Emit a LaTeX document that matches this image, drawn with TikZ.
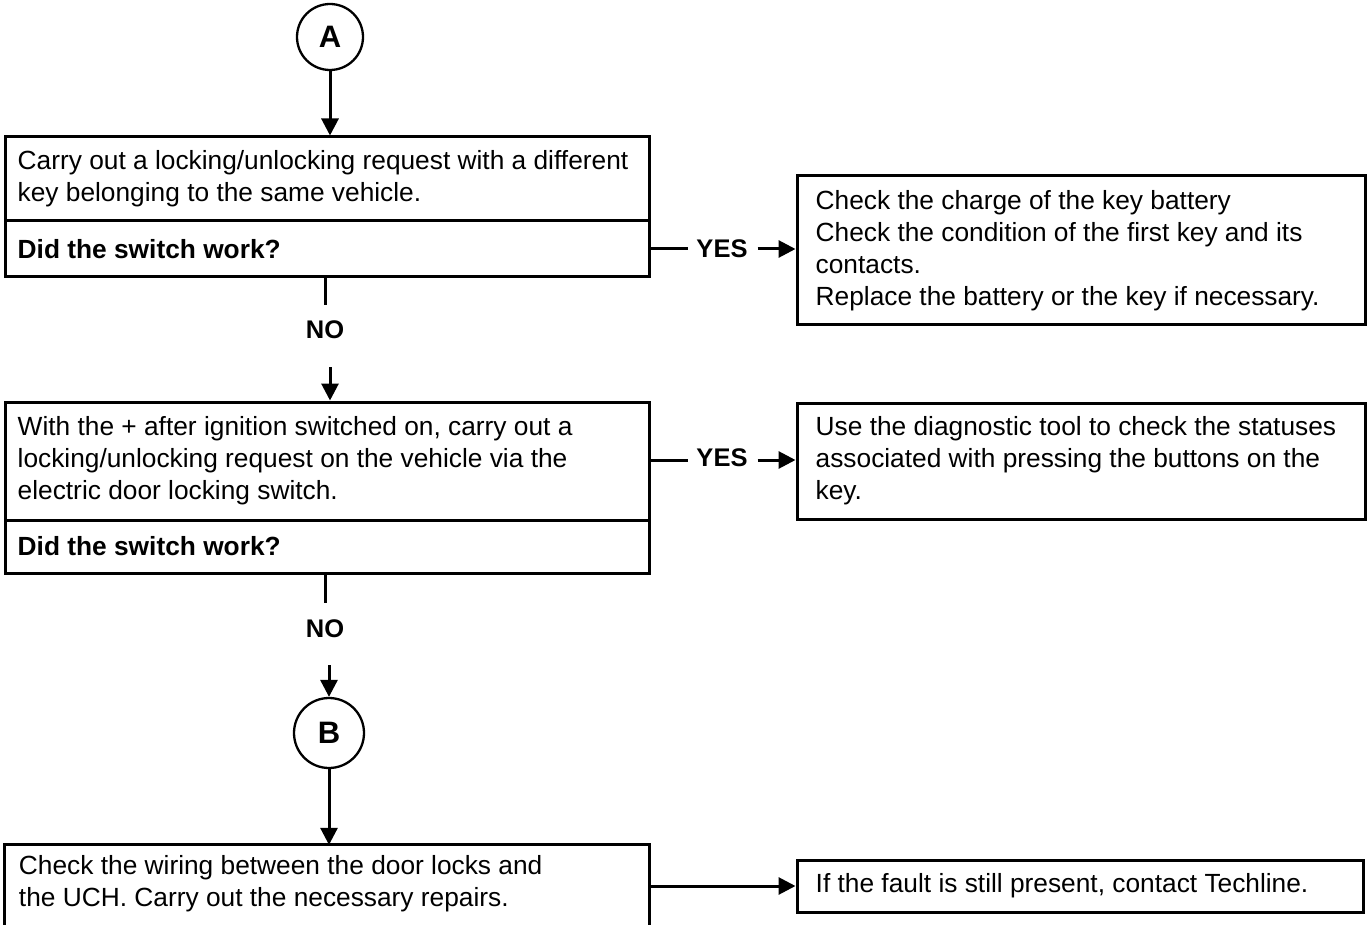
\documentclass[tikz,border=0pt]{standalone}
\usepackage{fontspec}
\setmainfont{Liberation Sans}
\usetikzlibrary{arrows.meta}

\begin{document}
\begin{tikzpicture}[x=1pt,y=-1pt,
  frame/.style={draw,line width=3pt,rectangle,inner sep=0pt},
  txt/.style={inner sep=0pt,anchor=west,align=left,font=\fontsize{26.3}{32}\selectfont},
  lab/.style={inner sep=0pt,font=\fontsize{25.5}{30}\selectfont\bfseries},
  conn/.style={circle,draw,line width=2.3pt,inner sep=0pt,font=\fontsize{31}{31}\selectfont\bfseries},
  ln/.style={line width=3pt},
  arr/.style={line width=3pt,-{Triangle[length=17pt,width=17pt]}}]
\clip (0,0) rectangle (1371,925);
\fill[white] (0,0) rectangle (1371,925);

% connector A
\node[conn,minimum size=66pt] (A) at (330,37) {A};

% first test
\node[frame,minimum width=644pt,minimum height=84pt] (b1t) at (327,179) {};
\node[frame,minimum width=644pt,minimum height=56pt] (b1q) at (327,249) {};
\node[txt] (b1tx) at ([xshift=14pt]b1t.west) {Carry out a locking/unlocking request with a different\\key belonging to the same vehicle.};
\node[txt,font=\fontsize{26.3}{32}\selectfont\bfseries] (b1qx) at ([xshift=14pt]b1q.west) {Did the switch work?};

\node[frame,minimum width=568pt,minimum height=149pt] (r1) at (1081,250.5) {};
\node[txt] (r1x) at ([xshift=20pt]r1.west) {Check the charge of the key battery\\Check the condition of the first key and its\\contacts.\\Replace the battery or the key if necessary.};

% second test
\node[frame,minimum width=644pt,minimum height=118pt] (b2t) at (327,461) {};
\node[frame,minimum width=644pt,minimum height=53pt] (b2q) at (327,546.5) {};
\node[txt] (b2tx) at ([xshift=14pt]b2t.west) {With the + after ignition switched on, carry out a\\locking/unlocking request on the vehicle via the\\electric door locking switch.};
\node[txt,font=\fontsize{26.3}{32}\selectfont\bfseries] (b2qx) at ([xshift=14pt]b2q.west) {Did the switch work?};

\node[frame,minimum width=568pt,minimum height=116pt] (r2) at (1081,461) {};
\node[txt] (r2x) at ([xshift=20pt]r2.west) {Use the diagnostic tool to check the statuses\\associated with pressing the buttons on the\\key.};

% connector B
\node[conn,minimum size=70pt] (B) at (329,733) {B};

% final check
\node[inner sep=0pt,minimum width=644pt,minimum height=77pt] (b3) at (327,883.5) {};
\draw[line width=3pt] ([yshift=-20pt]b3.south west) -- (b3.north west) -- (b3.north east) -- ([yshift=-20pt]b3.south east);
\node[txt] (b3x) at ([xshift=14pt]b3.west) {Check the wiring between the door locks and\\the UCH. Carry out the necessary repairs.};

\node[frame,minimum width=566pt,minimum height=52pt] (r3) at (1080,886) {};
\node[txt] (r3x) at ([xshift=20pt]r3.west) {If the fault is still present, contact Techline.};

% labels
\node[lab] (yes1) at (722,249) {YES};
\node[lab] (yes2) at (722,458) {YES};
\node[lab] (no1) at (325,330) {NO};
\node[lab] (no2) at (325,629) {NO};

\coordinate (s1) at (325,305);
\coordinate (s2) at (325,603);
\coordinate (a1) at (330,367);
\coordinate (a2) at (329,665);

% connectors
\draw[arr] (A.south) -- (A.south |- b1t.north);
\draw[ln] (b1q.east |- yes1) -- ([xshift=-8pt]yes1.west);
\draw[arr] ([xshift=10pt]yes1.east) -- (yes1 -| r1.west);
\draw[ln] (s1 |- b1q.south) -- (s1);
\draw[arr] (a1) -- (a1 |- b2t.north);

\draw[ln] (b2t.east |- 0,460) -- ([xshift=-8pt]yes2.west |- 0,460);
\draw[arr] ([xshift=10pt]yes2.east |- 0,460) -- (r2.west |- 0,460);
\draw[ln] (s2 |- b2q.south) -- (s2);
\draw[arr] (a2) -- (B.north);

\draw[arr] (B.south) -- (B.south |- b3.north);
\draw[arr] (b3.east |- r3) -- (r3.west);
\end{tikzpicture}
\end{document}
